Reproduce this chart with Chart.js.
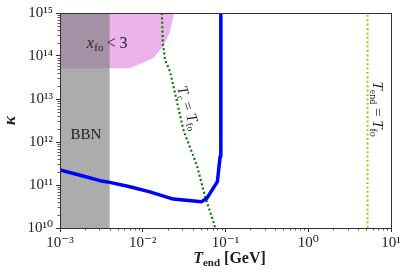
<!DOCTYPE html>
<html>
<head>
<meta charset="utf-8">
<script src="https://cdn.jsdelivr.net/npm/chart.js@4.4.0/dist/chart.umd.min.js"></script>
<style>
  html, body { margin: 0; padding: 0; background: #fff; }
  #wrap { width: 409px; height: 278px; }
</style>
</head>
<body>
<div id="wrap"><canvas id="chart"></canvas></div>
<script>
// axis ticks
const xTicks = [1e-3, 1e-2, 1e-1, 1, 10];
const xTickLabels = ['10⁻³', '10⁻²', '10⁻¹', '10⁰', '10¹'];
const yTicks = [1e10, 1e11, 1e12, 1e13, 1e14, 1e15];
const yTickLabels = ['10¹⁰', '10¹¹', '10¹²', '10¹³', '10¹⁴', '10¹⁵'];

// BBN excluded band (T_end below this)
const bbnX = [1e-3, 4e-3];
const bbnY = [1e15, 1e15];

// x_fo < 3 region, lower boundary (filled up to the top)
const foX = [1e-3, 7e-3, 0.0134, 0.0177, 0.021, 0.0241];
const foY = [5.2e13, 5.2e13, 8.9e13, 1.66e14, 3.4e14, 1e15];

// blue contour
const blueX = [1e-3, 1.9e-3, 3.05e-3, 4e-3, 7e-3, 0.0122, 0.0234, 0.0516, 0.0594, 0.0798, 0.0861, 0.0878];
const blueY = [2.24e11, 1.62e11, 1.26e11, 1.15e11, 9.1e10, 6.9e10, 4.7e10, 4.1e10, 4.9e10, 1.2e11, 4.6e11, 1e15];

// T_c = T_fo (green dotted)
const tcX = [0.017, 0.0175, 0.0186, 0.0214, 0.031, 0.045, 0.0567, 0.0714, 0.075];
const tcY = [1e15, 2e14, 8.2e13, 4.3e13, 1.9e12, 2.9e11, 5.4e10, 1.4e10, 1e10];

// T_end = T_fo (yellow dotted)
const tendX = [5.2, 5.2];
const tendY = [1e10, 1e15];

const SERIF = "'Liberation Serif', 'DejaVu Serif', serif";

function pts(xs, ys) {
  return xs.map((x, i) => ({ x: x, y: ys[i] }));
}

// minor ticks + frame
const framePlugin = {
  id: 'frame',
  afterDraw(chart) {
    const ctx = chart.ctx;
    const a = chart.chartArea;
    const xs = chart.scales.x, ys = chart.scales.y;
    ctx.save();
    ctx.strokeStyle = '#333';
    ctx.lineWidth = 0.8;
    ctx.beginPath();
    for (let d = -3; d < 1; d++) {
      for (let m = 2; m <= 9; m++) {
        const px = Math.round(xs.getPixelForValue(m * Math.pow(10, d))) + 0.5;
        ctx.moveTo(px, a.bottom);
        ctx.lineTo(px, a.bottom + 2.5);
      }
    }
    for (let d = 10; d < 15; d++) {
      for (let m = 2; m <= 9; m++) {
        const py = Math.round(ys.getPixelForValue(m * Math.pow(10, d))) + 0.5;
        ctx.moveTo(a.left, py);
        ctx.lineTo(a.left - 2.5, py);
      }
    }
    ctx.stroke();
    ctx.lineWidth = 1;
    ctx.strokeRect(a.left + 0.5, a.top + 0.5, a.right - a.left, a.bottom - a.top);
    ctx.restore();
  }
};

// text annotations (anchored in data coordinates)
const textPlugin = {
  id: 'texts',
  afterDatasetsDraw(chart) {
    const ctx = chart.ctx;
    const xs = chart.scales.x, ys = chart.scales.y;
    ctx.save();
    ctx.fillStyle = '#222';
    ctx.textBaseline = 'alphabetic';

    // BBN
    ctx.font = '15px ' + SERIF;
    ctx.textAlign = 'center';
    ctx.fillText('BBN', xs.getPixelForValue(2.05e-3), ys.getPixelForValue(1.2e12));

    // x_fo < 3
    ctx.textAlign = 'left';
    let px = xs.getPixelForValue(2.1e-3), py = ys.getPixelForValue(1.55e14);
    ctx.font = 'italic 16px ' + SERIF;
    ctx.fillText('x', px, py);
    px += ctx.measureText('x').width + 0.5;
    ctx.font = '11px ' + SERIF;
    ctx.fillText('fo', px, py + 3);
    px += ctx.measureText('fo').width + 3;
    ctx.font = '16px ' + SERIF;
    ctx.fillText('< 3', px, py);

    // rotated labels
    function rotLabel(x, y, angle, main, sub, rest, sub2) {
      ctx.save();
      ctx.translate(xs.getPixelForValue(x), ys.getPixelForValue(y));
      ctx.rotate(angle);
      ctx.font = 'italic 15px ' + SERIF;
      const wT = ctx.measureText(main).width;
      ctx.font = '10px ' + SERIF;
      const wS = ctx.measureText(sub).width;
      const wS2 = ctx.measureText(sub2).width;
      ctx.font = '15px ' + SERIF;
      const wR = ctx.measureText(rest).width;
      const total = wT + wS + wR + wT + wS2 + 2;
      let cx = -total / 2;
      ctx.textAlign = 'left';
      ctx.font = 'italic 15px ' + SERIF;
      ctx.fillText(main, cx, 5);
      cx += wT;
      ctx.font = '10px ' + SERIF;
      ctx.fillText(sub, cx, 8);
      cx += wS;
      ctx.font = '15px ' + SERIF;
      ctx.fillText(rest, cx, 5);
      cx += wR;
      ctx.font = 'italic 15px ' + SERIF;
      ctx.fillText(main, cx, 5);
      cx += wT;
      ctx.font = '10px ' + SERIF;
      ctx.fillText(sub2, cx, 8);
      ctx.restore();
    }
    rotLabel(0.0363, 5.9e12, 72 * Math.PI / 180, 'T', 'c', ' = ', 'fo');
    rotLabel(7.0, 5.5e12, Math.PI / 2, 'T', 'end', ' = ', 'fo');
    ctx.restore();
  },
  afterDraw(chart) {
    // x axis title T_end [GeV]
    const ctx = chart.ctx;
    ctx.save();
    ctx.fillStyle = '#222';
    ctx.textAlign = 'left';
    ctx.textBaseline = 'alphabetic';
    const parts = [
      ['bold italic 16px ' + SERIF, 'T', 0],
      ['bold 11px ' + SERIF, 'end', 3],
      ['bold 16px ' + SERIF, ' [GeV]', 0]
    ];
    let w = 0;
    parts.forEach(p => { ctx.font = p[0]; w += ctx.measureText(p[1]).width; });
    const a = chart.chartArea;
    let px = (a.left + a.right) / 2 - w / 2 + 4;
    const py = 263;
    parts.forEach(p => {
      ctx.font = p[0];
      ctx.fillText(p[1], px, py + p[2]);
      px += ctx.measureText(p[1]).width;
    });
    ctx.restore();
  }
};

const ctx = document.getElementById('chart').getContext('2d');
new Chart(ctx, {
  type: 'line',
  data: {
    datasets: [
      {
        data: pts(tendX, tendY),
        borderColor: '#c4c400',
        borderWidth: 2.2,
        borderDash: [2, 2.4],
        pointRadius: 0,
        fill: false,
        order: 1
      },
      {
        data: pts(blueX, blueY),
        borderColor: '#0000ff',
        borderWidth: 3.5,
        borderJoinStyle: 'round',
        pointRadius: 0,
        fill: false,
        order: 2
      },
      {
        data: pts(tcX, tcY),
        borderColor: '#008000',
        borderWidth: 2.2,
        borderDash: [2, 2.4],
        pointRadius: 0,
        fill: false,
        order: 3
      },
      {
        data: pts(bbnX, bbnY),
        borderWidth: 0,
        borderColor: 'rgba(0,0,0,0)',
        backgroundColor: 'rgba(128,128,128,0.65)',
        pointRadius: 0,
        fill: 'start',
        order: 4
      },
      {
        data: pts(foX, foY),
        borderWidth: 0,
        borderColor: 'rgba(0,0,0,0)',
        backgroundColor: 'rgba(191,0,191,0.3)',
        pointRadius: 0,
        fill: 'end',
        order: 5
      }
    ]
  },
  options: {
    responsive: true,
    maintainAspectRatio: false,
    animation: false,
    layout: { padding: { left: 0, top: 13, right: 18, bottom: 0 } },
    plugins: { legend: { display: false }, tooltip: { enabled: false } },
    scales: {
      x: {
        type: 'logarithmic',
        min: 1e-3,
        max: 10,
        afterBuildTicks: s => { s.ticks = xTicks.map(v => ({ value: v, major: true })); },
        afterFit: s => { s.height = 50; },
        ticks: {
          autoSkip: false,
          maxRotation: 0,
          padding: 2,
          color: '#222',
          font: { family: SERIF, size: 15 },
          callback: (v, i) => xTickLabels[i]
        },
        grid: { drawOnChartArea: false, drawTicks: true, tickLength: 4, tickColor: '#333' },
        border: { color: '#333', width: 1 }
      },
      y: {
        type: 'logarithmic',
        min: 1e10,
        max: 1e15,
        afterBuildTicks: s => { s.ticks = yTicks.map(v => ({ value: v, major: true })); },
        afterFit: s => { s.width = 60; },
        title: {
          display: true,
          text: 'κ',
          color: '#222',
          font: { family: SERIF, size: 17, weight: 'bold', style: 'italic' },
          padding: { top: 0, bottom: 0 }
        },
        ticks: {
          autoSkip: false,
          padding: 3,
          color: '#222',
          font: { family: SERIF, size: 15 },
          callback: (v, i) => yTickLabels[i]
        },
        grid: { drawOnChartArea: false, drawTicks: true, tickLength: 4, tickColor: '#333' },
        border: { color: '#333', width: 1 }
      }
    }
  },
  plugins: [framePlugin, textPlugin]
});
</script>
</body>
</html>
